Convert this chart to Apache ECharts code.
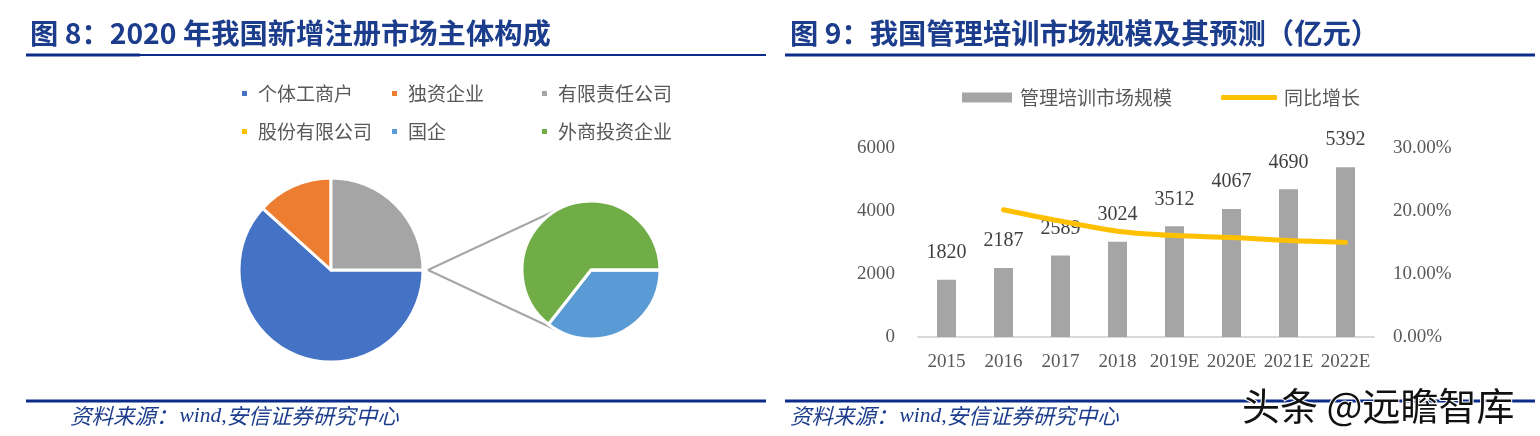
<!DOCTYPE html>
<html><head><meta charset="utf-8">
<script src="https://cdn.jsdelivr.net/npm/echarts@6/dist/echarts.min.js"></script>
<style>html,body{margin:0;padding:0;background:#fff}#c{width:1540px;height:436px}</style>
</head><body><div id="c"></div>
<script>
// ---- data ----
const pieMainNames = ['个体工商户', '独资企业', '有限责任公司'];
const pieMainValues = [61.7, 13.3, 25.0];
const pieSubNames = ['国企', '外商投资企业', '股份有限公司'];
const pieSubValues = [35.6, 64.4, 0];
const years = ['2015', '2016', '2017', '2018', '2019E', '2020E', '2021E', '2022E'];
const marketSize = [1820, 2187, 2589, 3024, 3512, 4067, 4690, 5392];
const growth = [null, 20.2, 18.4, 16.8, 16.1, 15.8, 15.3, 15.0];
const leftAxisMax = 6000, leftAxisInterval = 2000;
const rightAxisMax = 30, rightAxisInterval = 10;
const titleLeft = '图 8：2020 年我国新增注册市场主体构成';
const titleRight = '图 9：我国管理培训市场规模及其预测（亿元）';
const sourceParts = ['资料来源：', 'wind,', '安信证券研究中心'];
const watermark = '头条 @远瞻智库';

// ---- styles ----
const C = {
  blue: '#4472C4', orange: '#ED7D31', gray: '#A5A5A5', yellow: '#FFC000',
  lblue: '#5B9BD5', green: '#70AD47', navy: '#1C3C8C', line: '#0B2C8A',
  text: '#595959'
};
const colorMap = {
  '个体工商户': C.blue, '独资企业': C.orange, '有限责任公司': C.gray,
  '股份有限公司': C.yellow, '国企': C.lblue, '外商投资企业': C.green
};
const cjk = '"Noto Sans CJK SC", sans-serif';
const serif = '"Liberation Serif", "Noto Sans CJK SC", serif';

const main = { cx: 331, cy: 270, r: 92 };
const sub = { cx: 591, cy: 270, r: 69 };

// connector lines (tangent from a point just right of main pie)
const px = main.cx + main.r + 5, py = main.cy;
const d = sub.cx - px;
const th = Math.acos(sub.r / d);
const t1 = [sub.cx - sub.r * Math.cos(th), sub.cy - sub.r * Math.sin(th)];
const t2 = [sub.cx - sub.r * Math.cos(th), sub.cy + sub.r * Math.sin(th)];

const chart = echarts.init(document.getElementById('c'), null, { renderer: 'canvas' });

function legendCol(left, names) {
  return {
    orient: 'vertical', left: left, top: 79, itemGap: 19,
    itemWidth: 7, itemHeight: 7, icon: 'rect',
    selectedMode: false,
    textStyle: { fontFamily: cjk, fontSize: 19, color: C.text, padding: [0, 0, 0, 5] },
    data: names
  };
}

function sourceText(left) {
  return {
    type: 'text', left: left, top: 405,
    style: {
      text: '{a|' + sourceParts[0] + '}{b|' + sourceParts[1] + '}{a|' + sourceParts[2] + '}',
      rich: {
        a: { fontFamily: cjk, fontStyle: 'italic', fontSize: 21.5, fill: C.navy, padding: [0, 2, 0, 0] },
        b: { fontFamily: '"Liberation Serif", serif', fontStyle: 'italic', fontSize: 21.5, fill: C.navy }
      }
    }
  };
}

const option = {
  animation: false,
  backgroundColor: '#fff',
  legend: [
    legendCol(235, ['个体工商户', '股份有限公司']),
    legendCol(385, ['独资企业', '国企']),
    legendCol(535, ['有限责任公司', '外商投资企业']),
    {
      left: 957, top: 83, itemWidth: 50, itemHeight: 10, icon: 'rect', selectedMode: false,
      textStyle: { fontFamily: cjk, fontSize: 19, color: C.text, padding: [0, 0, 0, 3] },
      data: ['管理培训市场规模']
    },
    {
      left: 1216, top: 83, itemWidth: 56, itemHeight: 5, icon: 'roundRect', selectedMode: false,
      textStyle: { fontFamily: cjk, fontSize: 19, color: C.text, padding: [0, 0, 0, 2] },
      data: ['同比增长']
    }
  ],
  grid: { left: 918, right: 166, top: 148, bottom: 99, containLabel: false },
  xAxis: {
    type: 'category', data: years,
    axisLine: { lineStyle: { color: '#D9D9D9', width: 2 } },
    axisTick: { show: false },
    axisLabel: { fontFamily: serif, fontSize: 19, color: C.text, margin: 16, interval: 0 }
  },
  yAxis: [
    {
      type: 'value', min: 0, max: leftAxisMax, interval: leftAxisInterval,
      splitLine: { show: false }, axisLine: { show: false }, axisTick: { show: false },
      axisLabel: { fontFamily: serif, fontSize: 19, color: C.text, margin: 23,
        formatter: v => String(v) }
    },
    {
      type: 'value', min: 0, max: rightAxisMax, interval: rightAxisInterval,
      splitLine: { show: false }, axisLine: { show: false }, axisTick: { show: false },
      axisLabel: { fontFamily: serif, fontSize: 19, color: C.text, margin: 19,
        formatter: v => v.toFixed(2) + '%' }
    }
  ],
  series: [
    {
      type: 'pie', name: 'main', center: [main.cx, main.cy], radius: main.r,
      startAngle: 0, clockwise: true, silent: true,
      label: { show: false }, labelLine: { show: false },
      itemStyle: { borderColor: '#fff', borderWidth: 3 },
      data: pieMainNames.map((n, i) => ({ name: n, value: pieMainValues[i], itemStyle: { color: colorMap[n] } }))
    },
    {
      type: 'pie', name: 'sub', center: [sub.cx, sub.cy], radius: sub.r,
      startAngle: 0, clockwise: true, silent: true,
      label: { show: false }, labelLine: { show: false },
      itemStyle: { borderColor: '#fff', borderWidth: 3 },
      data: pieSubNames.map((n, i) => ({ name: n, value: pieSubValues[i], itemStyle: { color: colorMap[n] } }))
    },
    {
      type: 'bar', name: '管理培训市场规模', data: marketSize, barWidth: 19,
      itemStyle: { color: C.gray }, silent: true,
      label: { show: true, position: 'top', distance: 17, fontFamily: serif, fontSize: 20, color: '#404040' }
    },
    {
      type: 'line', name: '同比增长', yAxisIndex: 1, data: growth, smooth: 0.3,
      showSymbol: false, symbol: 'none', silent: true,
      lineStyle: { color: C.yellow, width: 5, cap: 'round' }, itemStyle: { color: C.yellow }
    }
  ],
  graphic: [
    { type: 'text', left: 30, top: 19, style: { text: titleLeft, font: 'bold 28.3px ' + cjk, fill: C.navy } },
    { type: 'text', left: 790, top: 19, style: { text: titleRight, font: 'bold 28.3px ' + cjk, fill: C.navy } },
    { type: 'line', shape: { x1: 26, y1: 55, x2: 766, y2: 55 }, style: { stroke: C.line, lineWidth: 2 } },
    { type: 'line', shape: { x1: 26, y1: 55, x2: 140, y2: 55 }, style: { stroke: C.line, lineWidth: 3 } },
    { type: 'line', shape: { x1: 785, y1: 55, x2: 1535, y2: 55 }, style: { stroke: C.line, lineWidth: 3 } },
    { type: 'line', shape: { x1: 26, y1: 401, x2: 766, y2: 401 }, style: { stroke: C.line, lineWidth: 3 } },
    { type: 'line', shape: { x1: 785, y1: 401, x2: 1535, y2: 401 }, style: { stroke: C.line, lineWidth: 3 } },
    sourceText(70),
    sourceText(790),
    { type: 'line', shape: { x1: px, y1: py, x2: t1[0], y2: t1[1] }, style: { stroke: '#A6A6A6', lineWidth: 2 } },
    { type: 'line', shape: { x1: px, y1: py, x2: t2[0], y2: t2[1] }, style: { stroke: '#A6A6A6', lineWidth: 2 } },
    { type: 'text', left: 1241, top: 386, z: 100,
      style: { text: watermark, font: '38px ' + cjk, fill: '#111', stroke: '#fff', lineWidth: 2 } }
  ]
};
chart.setOption(option);
</script></body></html>
